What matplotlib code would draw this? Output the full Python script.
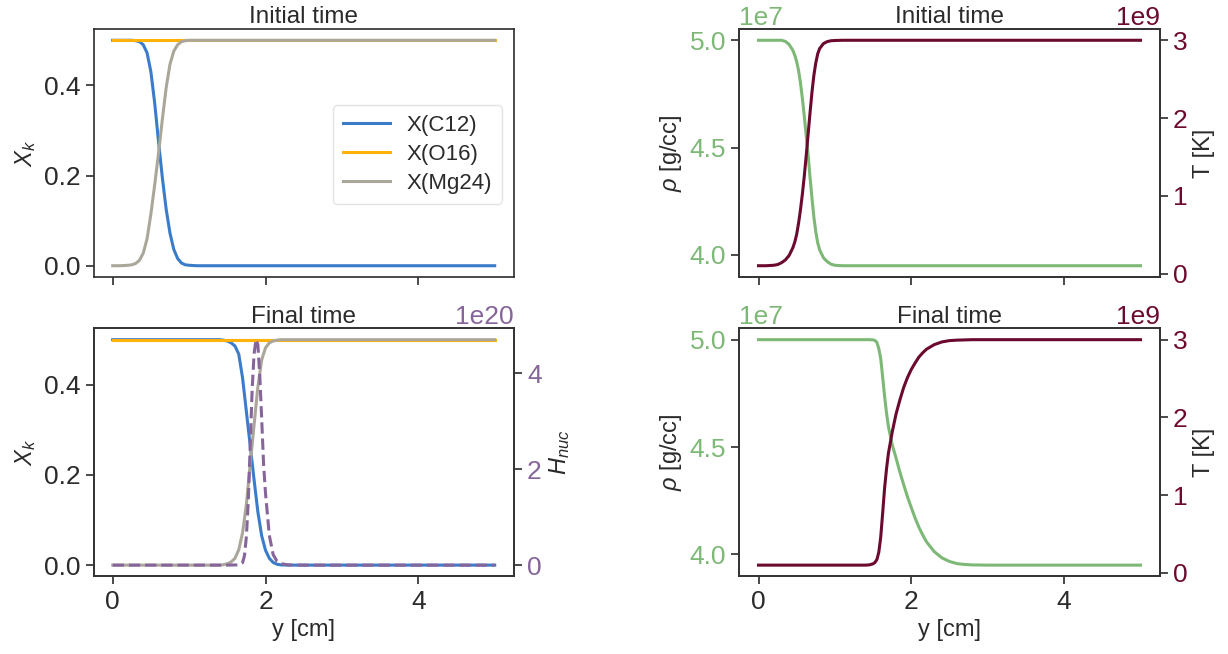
import numpy as np
import matplotlib
matplotlib.use("Agg")
import matplotlib.pyplot as plt

# Data
# initial profile, species (y in cm)
x_init = [0, 0.1, 0.2, 0.25, 0.3, 0.35, 0.4, 0.45, 0.5, 0.55, 0.6, 0.65, 0.7,
          0.75, 0.8, 0.85, 0.9, 0.95, 1.0, 1.1, 1.2, 1.5, 2.0, 3.0, 4.0, 5.0]
c12_init = [0.5, 0.5, 0.5, 0.5, 0.499, 0.497, 0.49, 0.472, 0.43, 0.36, 0.275, 0.195, 0.125,
            0.072, 0.036, 0.016, 0.006, 0.002, 0.001, 0, 0, 0, 0, 0, 0, 0]
o16_init = [0.5] * 26
mg24_init = [0, 0, 0.001, 0.002, 0.005, 0.012, 0.028, 0.06, 0.115, 0.18, 0.25, 0.325, 0.395,
             0.447, 0.476, 0.49, 0.497, 0.499, 0.5, 0.5, 0.5, 0.5, 0.5, 0.5, 0.5, 0.5]

# initial profile, density (1e7 g/cc) and temperature (1e9 K)
x_thermo_init = [0, 0.1, 0.2, 0.25, 0.3, 0.35, 0.4, 0.45, 0.475, 0.5, 0.525, 0.55, 0.575, 0.6,
                 0.625, 0.65, 0.675, 0.7, 0.725, 0.75, 0.775, 0.8, 0.85, 0.9, 0.95, 1.0, 1.1,
                 1.5, 2.0, 3.0, 4.0, 5.0]
rho_init = [5.0, 5.0, 5.0, 5.0, 5.0, 4.995, 4.981, 4.953, 4.93, 4.90, 4.858, 4.80, 4.727, 4.643,
            4.554, 4.465, 4.36, 4.265, 4.176, 4.108, 4.057, 4.024, 3.987, 3.969, 3.957, 3.952,
            3.95, 3.95, 3.95, 3.95, 3.95, 3.95]
temp_init = [0.1, 0.1, 0.106, 0.115, 0.138, 0.173, 0.231, 0.332, 0.405, 0.506, 0.651, 0.825,
             1.028, 1.26, 1.521, 1.797, 2.072, 2.333, 2.551, 2.71, 2.826, 2.893, 2.957, 2.983,
             2.994, 2.997, 3.0, 3.0, 3.0, 3.0, 3.0, 3.0]

# final profile, species
x_final = [0, 0.5, 1.0, 1.2, 1.4, 1.45, 1.5, 1.55, 1.6, 1.65, 1.7, 1.75, 1.8, 1.85, 1.9, 1.95,
           2.0, 2.05, 2.1, 2.15, 2.2, 2.3, 2.4, 2.5, 2.6, 2.7, 2.8, 3.0, 3.5, 4.0, 4.5, 5.0]
c12_final = [0.5, 0.5, 0.5, 0.5, 0.5, 0.499, 0.497, 0.493, 0.486, 0.468, 0.415, 0.34, 0.265, 0.19,
             0.118, 0.065, 0.033, 0.015, 0.006, 0.002, 0.0005, 0, 0, 0, 0, 0, 0, 0, 0, 0, 0, 0]
o16_final = [0.5] * 32
mg24_final = [0, 0, 0, 0, 0, 0.001, 0.003, 0.007, 0.015, 0.034, 0.072, 0.135, 0.225, 0.31, 0.395,
              0.455, 0.482, 0.493, 0.497, 0.499, 0.5, 0.5, 0.5, 0.5, 0.5, 0.5, 0.5, 0.5, 0.5, 0.5,
              0.5, 0.5]

# final profile, density (1e7 g/cc) and temperature (1e9 K)
x_thermo_final = [0, 0.5, 1.0, 1.2, 1.4, 1.45, 1.5, 1.525, 1.55, 1.575, 1.6, 1.625, 1.65, 1.675,
                  1.7, 1.75, 1.8, 1.85, 1.9, 1.95, 2.0, 2.05, 2.1, 2.15, 2.2, 2.3, 2.4, 2.5, 2.6,
                  2.7, 2.8, 3.0, 3.5, 4.0, 4.5, 5.0]
rho_final = [5.0, 5.0, 5.0, 5.0, 5.0, 5.0, 4.999, 4.996, 4.987, 4.958, 4.911, 4.827, 4.738, 4.66,
             4.596, 4.511, 4.449, 4.384, 4.325, 4.268, 4.218, 4.169, 4.126, 4.090, 4.058, 4.013,
             3.984, 3.967, 3.957, 3.953, 3.951, 3.95, 3.95, 3.95, 3.95, 3.95]
temp_final = [0.1, 0.1, 0.1, 0.1, 0.1, 0.103, 0.117, 0.135, 0.173, 0.268, 0.463, 0.767, 1.086,
              1.333, 1.536, 1.811, 2.043, 2.223, 2.385, 2.513, 2.617, 2.701, 2.777, 2.832, 2.878,
              2.936, 2.971, 2.988, 2.994, 2.997, 3.0, 3.0, 3.0, 3.0, 3.0, 3.0]

# nuclear energy generation, final time (1e20)
x_hnuc = [0, 1.0, 1.5, 1.65, 1.7, 1.725, 1.75, 1.775, 1.8, 1.825, 1.85, 1.875, 1.9, 1.925,
          1.95, 1.975, 2.0, 2.05, 2.1, 2.15, 2.2, 2.3, 2.5, 3.0, 4.0, 5.0]
hnuc = [0, 0, 0, 0.005, 0.05, 0.2, 0.6, 1.35, 2.5, 3.65, 4.4, 4.7, 4.6, 3.95,
        3.05, 2.1, 1.5, 0.62, 0.22, 0.08, 0.03, 0.005, 0, 0, 0, 0]

species = ["X(C12)", "X(O16)", "X(Mg24)"]
rho_ticks = [4.0e7, 4.5e7, 5.0e7]
temp_ticks = [0, 1e9, 2e9, 3e9]
hnuc_ticks = [0, 2e20, 4e20]
xk_ticks = [0.0, 0.2, 0.4]
y_ticks = [0, 2, 4]

# colours
c_c12 = "#3b7cca"
c_o16 = "#ffb20a"
c_mg24 = "#aaa79a"
c_hnuc = "#86659a"
c_rho = "#7db877"
c_temp = "#6b0a2e"
c_ink = "#2b2b2b"

plt.rcParams["font.family"] = ["Liberation Sans", "DejaVu Sans"]
plt.rcParams["mathtext.fontset"] = "custom"
plt.rcParams["mathtext.rm"] = "Liberation Sans"
plt.rcParams["mathtext.it"] = "Liberation Sans:italic"
plt.rcParams["axes.edgecolor"] = "#333333"
plt.rcParams["axes.linewidth"] = 1.25
plt.rcParams["text.color"] = c_ink
plt.rcParams["axes.labelcolor"] = c_ink
for ax_name in ["xtick", "ytick"]:
    plt.rcParams[ax_name + ".color"] = "#333333"
    plt.rcParams[ax_name + ".labelcolor"] = c_ink
    plt.rcParams[ax_name + ".major.size"] = 6
    plt.rcParams[ax_name + ".major.width"] = 1.25
    plt.rcParams[ax_name + ".labelsize"] = 19

lw = 2.2
tick_fs = 19
label_fs = 17
title_fs = 17.5


def place(fig, col, row):
    W, H = 1228.0, 654.0
    left = [93.6, 739.4][col]
    top = [29.0, 328.4][row]
    return fig.add_axes([left / W, 1 - (top + 248) / H, 420.2 / W, 248 / H])


def style_twin(ax, color):
    ax.tick_params(axis="y", labelcolor=color)
    ax.yaxis.get_offset_text().set_color(color)
    ax.yaxis.get_offset_text().set_fontsize(tick_fs)


fig = plt.figure(figsize=(12.28, 6.54), dpi=100)
ax_tl = place(fig, 0, 0)
ax_bl = place(fig, 0, 1)
ax_tr = place(fig, 1, 0)
ax_br = place(fig, 1, 1)

# species, initial
ax_tl.plot(x_init, c12_init, color=c_c12, lw=lw, label=species[0])
ax_tl.plot(x_init, o16_init, color=c_o16, lw=lw, label=species[1])
ax_tl.plot(x_init, mg24_init, color=c_mg24, lw=lw, label=species[2])
ax_tl.set_ylabel("$X_k$", fontsize=label_fs)
ax_tl.set_title("Initial time", fontsize=title_fs, pad=4)
ax_tl.legend(loc="center right", fontsize=16, frameon=True, edgecolor="#dddddd",
             handlelength=2.1, handletextpad=0.75, borderpad=0.45, labelspacing=0.35,
             bbox_to_anchor=(0.998, 0.494))

# species, final + Hnuc
ax_bl.plot(x_final, c12_final, color=c_c12, lw=lw)
ax_bl.plot(x_final, o16_final, color=c_o16, lw=lw)
ax_bl.plot(x_final, mg24_final, color=c_mg24, lw=lw)
ax_bl.set_ylabel("$X_k$", fontsize=label_fs)
ax_bl.set_xlabel("y [cm]", fontsize=label_fs)
ax_bl.set_title("Final time", fontsize=title_fs, pad=4)
ax_h = ax_bl.twinx()
ax_h.plot(x_hnuc, np.array(hnuc) * 1e20, color=c_hnuc, lw=lw, ls="--")
ax_h.set_ylabel("$H_{nuc}$", fontsize=label_fs)
ax_h.set_yticks(hnuc_ticks)
style_twin(ax_h, c_hnuc)

# rho / T panels
for ax, xs, rho, temp, title in [(ax_tr, x_thermo_init, rho_init, temp_init, "Initial time"),
                                 (ax_br, x_thermo_final, rho_final, temp_final, "Final time")]:
    ax.plot(xs, np.array(rho) * 1e7, color=c_rho, lw=lw)
    ax.set_ylabel(r"$\rho$ [g/cc]", fontsize=label_fs)
    ax.set_title(title, fontsize=title_fs, pad=4)
    ax.set_yticks(rho_ticks)
    style_twin(ax, c_rho)
    ax_t = ax.twinx()
    ax_t.plot(xs, np.array(temp) * 1e9, color=c_temp, lw=lw)
    ax_t.set_ylabel("T [K]", fontsize=label_fs)
    ax_t.set_yticks(temp_ticks)
    style_twin(ax_t, c_temp)
ax_br.set_xlabel("y [cm]", fontsize=label_fs)

for ax in [ax_tl, ax_bl, ax_tr, ax_br]:
    ax.set_xlim(-0.25, 5.25)
    ax.set_xticks(y_ticks)
ax_tl.set_yticks(xk_ticks)
ax_bl.set_yticks(xk_ticks)
ax_tl.tick_params(axis="x", labelbottom=False)
ax_tr.tick_params(axis="x", labelbottom=False)

fig.savefig("out.png", dpi=100)
